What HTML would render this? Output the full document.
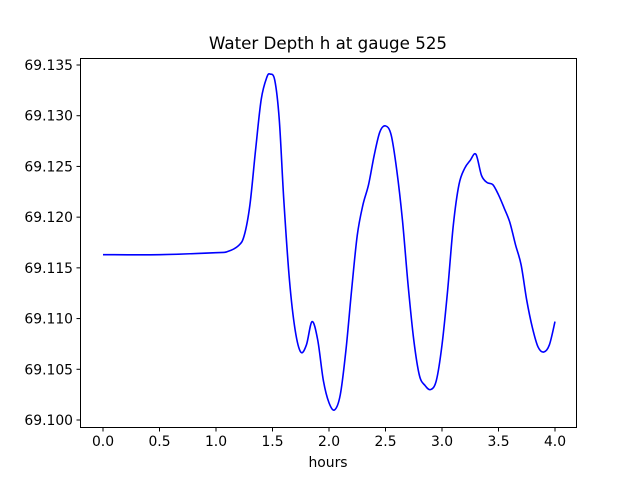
<!DOCTYPE html>
<html><head><meta charset="utf-8"><style>
body{margin:0;background:#fff;}
svg text{font-family:"DejaVu Sans","Liberation Sans",sans-serif;}
</style></head><body>
<svg id="chart" width="640" height="480" viewBox="0 0 640 480">
<rect x="0" y="0" width="640" height="480" fill="#fff"/>
<text x="328" y="49" text-anchor="middle" font-size="16.7">Water Depth h at gauge 525</text>
<g id="plot"></g>
<rect x="80.5" y="58.5" width="496" height="369" fill="none" stroke="#000" stroke-width="1"/>
<text x="328" y="467" text-anchor="middle" font-size="13.9">hours</text>
</svg>
<script>
const times=[0,0.5,1.0,1.1,1.2,1.25,1.3,1.35,1.4,1.45,1.48,1.52,1.56,1.6,1.65,1.7,1.75,1.8,1.85,1.9,1.95,2.0,2.05,2.1,2.15,2.2,2.25,2.3,2.35,2.4,2.45,2.5,2.55,2.6,2.65,2.7,2.75,2.8,2.85,2.9,2.95,3.0,3.05,3.1,3.15,3.2,3.25,3.3,3.35,3.4,3.45,3.5,3.55,3.6,3.65,3.7,3.75,3.8,3.85,3.9,3.95,4.0];
const depths=[69.1163,69.1163,69.1165,69.1166,69.1172,69.1182,69.1212,69.1266,69.1316,69.1338,69.1341,69.1335,69.1296,69.1217,69.1138,69.1089,69.1067,69.1074,69.1097,69.1079,69.1039,69.1017,69.1010,69.1025,69.1069,69.1128,69.1182,69.1212,69.1232,69.1261,69.1284,69.1290,69.1281,69.1246,69.1197,69.1133,69.1079,69.1044,69.1034,69.1030,69.1039,69.1074,69.1128,69.1192,69.1232,69.1248,69.1256,69.1262,69.1241,69.1234,69.1232,69.1222,69.1209,69.1195,69.1173,69.1153,69.1118,69.1091,69.1072,69.1067,69.1074,69.1097];
const xTicks=[0,0.5,1.0,1.5,2.0,2.5,3.0,3.5,4.0];
const xTickLabels=["0.0","0.5","1.0","1.5","2.0","2.5","3.0","3.5","4.0"];
const yTicks=[69.100,69.105,69.110,69.115,69.120,69.125,69.130,69.135];
const yTickLabels=["69.100","69.105","69.110","69.115","69.120","69.125","69.130","69.135"];
const NS="http://www.w3.org/2000/svg";
const sx=v=>103+v*113;
const sy=v=>420-(v-69.100)*(355/0.035);
const g=document.getElementById('plot');
function mk(tag,attrs){const e=document.createElementNS(NS,tag);for(const k in attrs)e.setAttribute(k,attrs[k]);g.appendChild(e);return e;}
xTicks.forEach((t,i)=>{
  const x=sx(t);
  const l=mk('line',{x1:x,x2:x,y1:427.5,y2:431.5,stroke:'#000'});
  
  
  const tx=mk('text',{x:x,y:446,'text-anchor':'middle','font-size':13.9});
  tx.textContent=xTickLabels[i];
  
  
});
yTicks.forEach((t,i)=>{
  const y=sy(t);
  const l=mk('line',{x1:76.5,x2:80.5,y1:y,y2:y,stroke:'#000'});
  
  
  const tx=mk('text',{x:73,y:y+5,'text-anchor':'end','font-size':13.9});
  tx.textContent=yTickLabels[i];
  
  
});
const pts=times.map((t,i)=>[sx(t),sy(depths[i])]);
let d='M'+pts[0][0]+','+pts[0][1];
for(let i=0;i<pts.length-1;i++){
  const p0=pts[Math.max(0,i-1)],p1=pts[i],p2=pts[i+1],p3=pts[Math.min(pts.length-1,i+2)];
  const c1=[p1[0]+(p2[0]-p0[0])/6,p1[1]+(p2[1]-p0[1])/6];
  const c2=[p2[0]-(p3[0]-p1[0])/6,p2[1]-(p3[1]-p1[1])/6];
  d+=' C'+c1[0]+','+c1[1]+' '+c2[0]+','+c2[1]+' '+p2[0]+','+p2[1];
}
const path=mk('path',{d:d,fill:'none',stroke:'#0000ff','stroke-width':1.6});


</script>
</body></html>
